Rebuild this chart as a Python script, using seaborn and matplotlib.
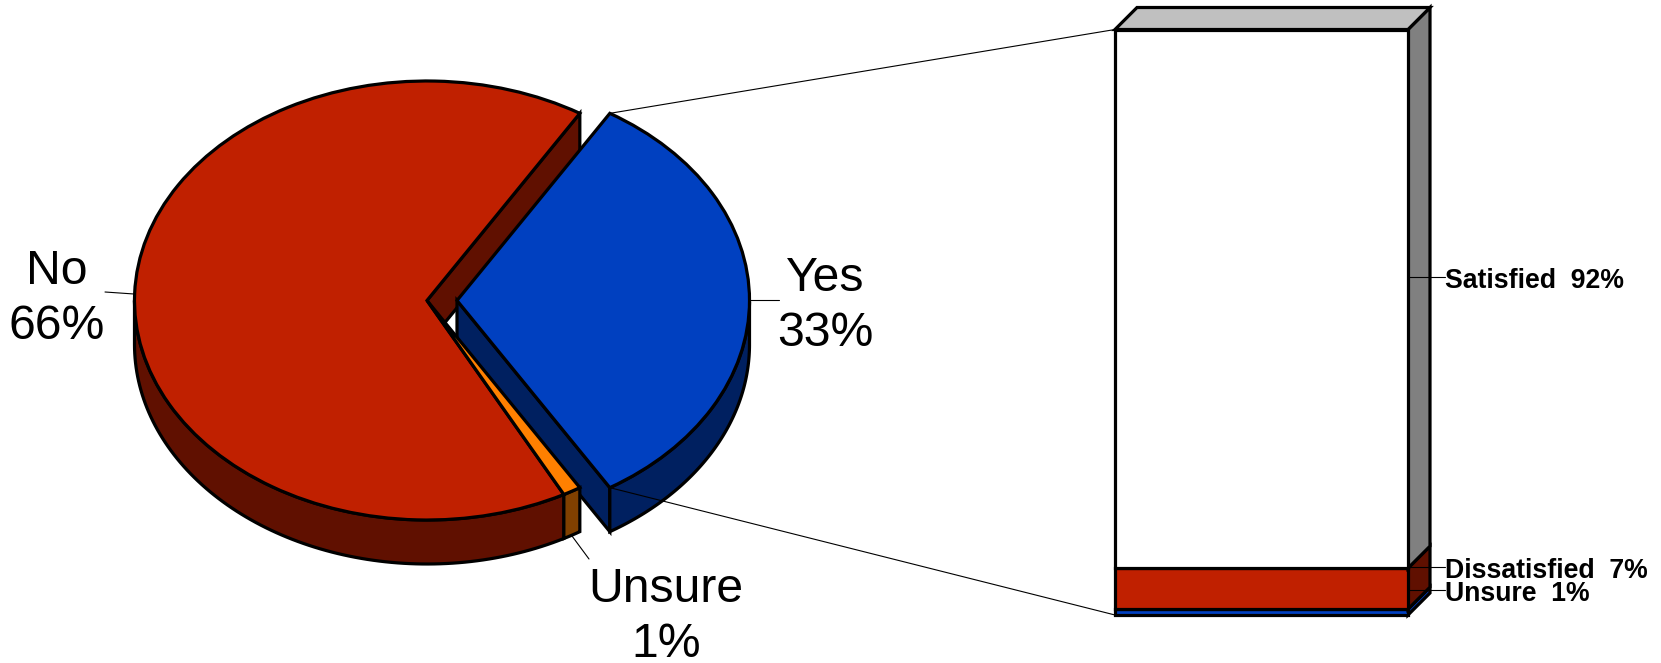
import numpy as np
import pandas as pd
import matplotlib
matplotlib.use("Agg")
import matplotlib.pyplot as plt
from matplotlib.patches import ConnectionPatch
import seaborn as sns

# ---- data ----
pie_labels = ["Yes", "No", "Unsure"]
pie_values = [32.5, 66.5, 1.0]          # wedge sizes
pie_shown = ["33%", "66%", "1%"]        # percentages printed on the chart
pie_colors = ["#0040C0", "#C02000", "#FF8000"]
pie_dark = ["#002060", "#601000", "#804000"]
stack_labels = ["Unsure", "Dissatisfied", "Satisfied"]
stack_values = [1, 7, 92]
stack_colors = ["#0040C0", "#C02000", "#FFFFFF"]
stack_dark = ["#0038B0", "#601000", "#808080"]

W, H = 1661, 663
sns.set_theme(style="white")
plt.rcParams["font.family"] = ["Liberation Sans", "DejaVu Sans"]
fig = plt.figure(figsize=(W / 100, H / 100), dpi=100, facecolor="white")

# ---- layout (pixels) ----
CX, CY, RX, RY = 427, 300.5, 292.5, 219.5
DEPTH = 44 / RY
EXPLODE = 30 / RX
BX0, BX1, BY0, BY1 = 1115, 1408, 29.5, 615
BDX, BDY = 22, 22
LW = 2.3
THIN = 0.8

ax = fig.add_axes([0, 0, 1, 1])
bar_ax = fig.add_axes([BX0 / W, 1 - BY1 / H, (BX1 - BX0) / W, (BY1 - BY0) / H])
bar_ax.set_zorder(2)
bar_ax.patch.set_alpha(0)

# ---- 3-D pie ----
shares = np.array(pie_values) / sum(pie_values) * 360
start = -shares[0] / 2
edges = start + np.concatenate([[0], np.cumsum(shares)])


def rim(a0, a1, cx, col):
    """Extruded outer wall of a wedge, lower half only."""
    t = np.linspace(np.radians(a0), np.radians(a1), 200)
    t = t[np.sin(t) <= 0]
    x = cx + np.cos(t)
    y = np.sin(t)
    ax.fill(np.r_[x, x[::-1]], np.r_[y, y[::-1] - DEPTH], fc=col, ec="black", lw=LW)


def cut(angle, cx, col):
    """Flat inner wall of a wedge along one radius."""
    a = np.radians(angle)
    px_, py_ = cx + np.cos(a), np.sin(a)
    ax.fill([cx, px_, px_, cx], [0, py_, py_ - DEPTH, -DEPTH], fc=col, ec="black", lw=LW)


cut(edges[1], 0, pie_dark[1])
rim(edges[1], edges[2], 0, pie_dark[1])
cut(edges[0], EXPLODE, pie_dark[0])
rim(edges[0], edges[1], EXPLODE, pie_dark[0])
rim(edges[2], edges[3], 0, pie_dark[2])

ax.pie(pie_values, colors=pie_colors, startangle=start, explode=[EXPLODE, 0, 0], radius=1,
       wedgeprops=dict(edgecolor="black", linewidth=LW))
ax.set_aspect("auto")
ax.set_xlim(-CX / RX, (W - CX) / RX)
ax.set_ylim(-(H - CY) / RY, CY / RY)
ax.axis("off")


def px(x, y):
    return (x - CX) / RX, (CY - y) / RY


txt = dict(fontsize=34.7, ha="center", va="center", color="black", linespacing=1.27)
pie_text = [f"{l}\n{s}" for l, s in zip(pie_labels, pie_shown)]
ax.text(*px(825, 306), pie_text[0], **txt)
ax.text(*px(57, 299), pie_text[1], **txt)
ax.text(*px(666, 617), pie_text[2], **txt)
ax.plot(*zip(px(749, 300), px(779, 300)), color="black", lw=THIN)
ax.plot(*zip(px(105, 292), px(134, 294)), color="black", lw=THIN)
ax.plot(*zip(px(572, 536), px(589, 559)), color="black", lw=THIN)

# ---- stacked bar ----
dx = BDX / (BX1 - BX0)
dy = BDY / (BY1 - BY0) * 100
bottoms = np.concatenate([[0], np.cumsum(stack_values)[:-1]])
tops = bottoms + np.array(stack_values)
for lab, v, b, t, c, d in zip(stack_labels, stack_values, bottoms, tops, stack_colors, stack_dark):
    bar_ax.fill([0.5, 0.5 + dx, 0.5 + dx, 0.5], [b, b + dy, t + dy, t], fc=d, ec="black", lw=LW, clip_on=False)
    df = pd.DataFrame({"group": ["Reason"], "share": [v]})
    sns.barplot(data=df, x="group", y="share", bottom=b, color=c, saturation=1, width=1,
                edgecolor="black", linewidth=LW, ax=bar_ax, clip_on=False)
bar_ax.fill([-0.5, -0.5 + dx, 0.5 + dx, 0.5], [100, 100 + dy, 100 + dy, 100], fc="#C0C0C0", ec="black", lw=LW, clip_on=False)
bar_ax.set_xlim(-0.5, 0.5)
bar_ax.set_ylim(0, 100)
bar_ax.axis("off")

# bar labels
label_x = 0.5 + (1445 - BX1) / (BX1 - BX0)
text_drop = 4 / (BY1 - BY0) * 100
for lab, v, b, t in zip(stack_labels, stack_values, bottoms, tops):
    m = (b + t) / 2 + dy
    bar_ax.plot([0.5, label_x], [m, m], color="black", lw=THIN, clip_on=False, zorder=5)
    bar_ax.text(label_x, m - text_drop, f"{lab}  {v}%", fontsize=19.2, fontweight="bold",
                ha="left", va="center", color="black")

# ---- connectors ----
ya = np.radians(shares[0] / 2)
for sign, by in ((1, 100), (-1, 0)):
    con = ConnectionPatch(xyA=(EXPLODE + np.cos(ya), sign * np.sin(ya)), coordsA=ax.transData,
                          xyB=(-0.5, by), coordsB=bar_ax.transData, color="black", lw=THIN, zorder=6)
    fig.add_artist(con)

fig.savefig("out.png", dpi=100, facecolor="white")
